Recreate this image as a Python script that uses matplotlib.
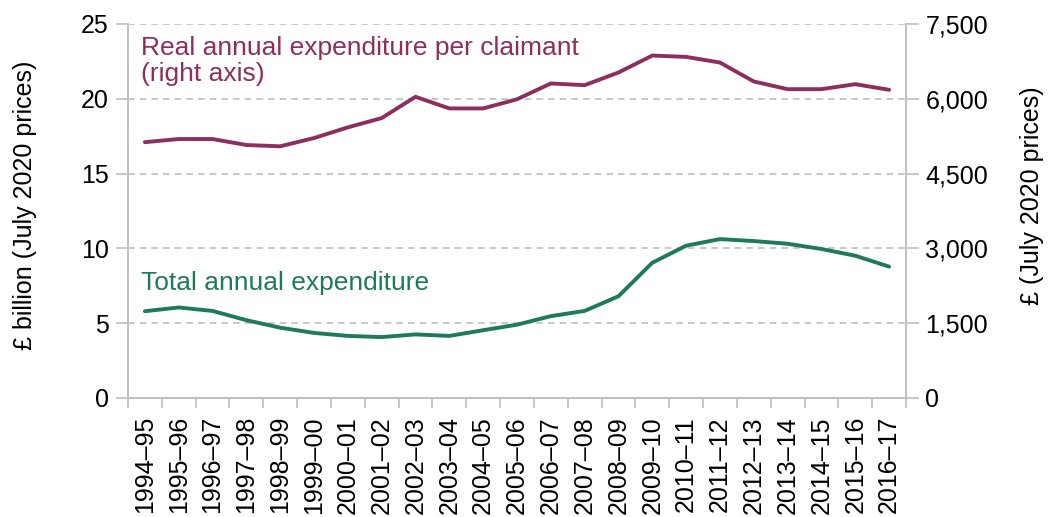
import numpy as np
import matplotlib.pyplot as plt
from matplotlib.ticker import FuncFormatter

plt.rcParams['font.family'] = ['Liberation Sans', 'DejaVu Sans']

years = ['1994–95', '1995–96', '1996–97', '1997–98', '1998–99', '1999–00',
         '2000–01', '2001–02', '2002–03', '2003–04', '2004–05', '2005–06',
         '2006–07', '2007–08', '2008–09', '2009–10', '2010–11', '2011–12',
         '2012–13', '2013–14', '2014–15', '2015–16', '2016–17']

# total annual expenditure, £ billion (left axis)
total = [5.8, 6.05, 5.82, 5.2, 4.7, 4.35, 4.15, 4.07, 4.25, 4.15, 4.53, 4.9,
         5.47, 5.82, 6.8, 9.04, 10.18, 10.62, 10.49, 10.31, 9.96, 9.51, 8.78]

# real annual expenditure per claimant, £ (right axis)
per_claimant = [5130, 5193, 5193, 5073, 5047, 5213, 5427, 5613, 6040, 5807,
                5807, 5990, 6307, 6273, 6527, 6867, 6840, 6727, 6347, 6193,
                6193, 6293, 6180]

purple = '#8C2F5F'
green = '#1F7A5A'
grey = '#BFBFBF'

fig = plt.figure(figsize=(10.48, 5.17), dpi=100)
ax = fig.add_axes([0.1221, 0.2302, 0.7424, 0.7234])
ax2 = ax.twinx()

x = np.arange(len(years))
ax.plot(x, total, color=green, lw=2.8, solid_capstyle='round')
ax2.plot(x, per_claimant, color=purple, lw=2.8, solid_capstyle='round')

ax.set_xlim(-0.5, len(years) - 0.5)
ax.set_ylim(0, 25)
ax2.set_ylim(0, 7500)
ax.set_yticks(np.arange(0, 26, 5))
ax2.set_yticks(np.arange(0, 7501, 1500))
ax2.yaxis.set_major_formatter(FuncFormatter(lambda v, p: f'{int(v):,}'))

ax.set_xticks(np.arange(-0.5, len(years), 1))
ax.set_xticklabels([])
ax.set_xticks(x, minor=True)
ax.set_xticklabels(years, minor=True, rotation=90, fontsize=18)
ax.tick_params(axis='x', which='minor', length=0, pad=13)
ax.tick_params(axis='x', which='major', length=7, color=grey, width=1.2)

for a in (ax, ax2):
    a.tick_params(axis='y', length=9, color=grey, width=1.2, labelsize=18, pad=5)
    for s in a.spines.values():
        s.set_color(grey)
        s.set_linewidth(1.2)
    a.spines['top'].set_visible(False)

ax.yaxis.grid(True, linestyle=(0, (4, 3)), color=grey, lw=1.2)
ax.set_axisbelow(True)

fig.text(25 / 1048, 1 - 205 / 517, '£ billion (July 2020 prices)', rotation=90,
         fontsize=18, ha='center', va='center')
fig.text(1032 / 1048, 1 - 196 / 517, '£ (July 2020 prices)', rotation=90,
         fontsize=18, ha='center', va='center')

ax.text(0.0167, 0.967, 'Real annual expenditure per claimant\n(right axis)',
        transform=ax.transAxes, color=purple, fontsize=19, va='top',
        linespacing=1.1)
ax.text(0.0167, 0.289, 'Total annual expenditure', transform=ax.transAxes,
        color=green, fontsize=19, va='baseline')

fig.savefig('out.png', dpi=100)
